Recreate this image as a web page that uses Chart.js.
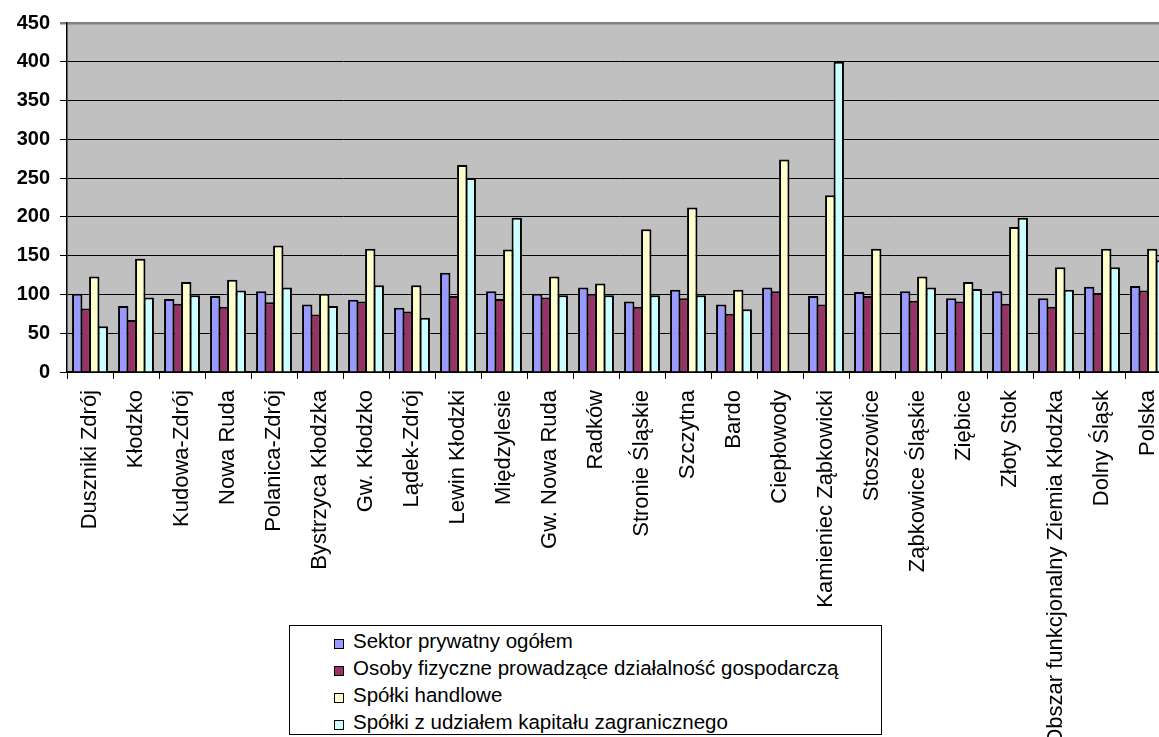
<!DOCTYPE html>
<html lang="pl">
<head>
<meta charset="utf-8">
<script src="https://cdn.jsdelivr.net/npm/chart.js@4/dist/chart.umd.min.js"></script>
<style>
  html, body { margin: 0; padding: 0; background: #fff; overflow: hidden; }
  #wrap { position: absolute; left: 0; top: 0; width: 1171px; height: 737px; }
  #legend {
    position: absolute; left: 289px; top: 625px; width: 591px; height: 108px;
    border: 1px solid #000; background: #fff;
    font-family: "Liberation Sans", Arial, sans-serif; font-size: 20.5px; color: #000;
  }
  #legend .row { position: absolute; left: 44px; height: 27px; line-height: 27px; white-space: nowrap; }
  #legend .sw { display: inline-block; width: 8px; height: 8px; border: 1.5px solid #000; margin-right: 9px; vertical-align: -1px; }
</style>
</head>
<body>
<div id="wrap"><canvas id="chart"></canvas></div>
<div id="legend"></div>
<script>
const categories = ['Duszniki Zdrój', 'Kłodzko', 'Kudowa-Zdrój', 'Nowa Ruda', 'Polanica-Zdrój', 'Bystrzyca Kłodzka',
    'Gw. Kłodzko', 'Lądek-Zdrój', 'Lewin Kłodzki', 'Międzylesie', 'Gw. Nowa Ruda', 'Radków', 'Stronie Śląskie',
    'Szczytna', 'Bardo', 'Ciepłowody', 'Kamieniec Ząbkowicki', 'Stoszowice', 'Ząbkowice Śląskie', 'Ziębice',
    'Złoty Stok', 'Obszar funkcjonalny Ziemia Kłodzka', 'Dolny Śląsk', 'Polska'];

const seriesNames = ['Sektor prywatny ogółem', 'Osoby fizyczne prowadzące działalność gospodarczą',
    'Spółki handlowe', 'Spółki z udziałem kapitału zagranicznego'];
const seriesColors = ['#9999FF', '#993366', '#FFFFCC', '#CCFFFF'];

const sektorPrywatny = [101, 85, 94, 98, 104, 87, 93, 83, 128, 104, 101, 109, 91, 106, 87, 109, 98, 103, 104, 95, 104, 95, 110, 111];
const osobyFizyczne = [82, 67, 88, 84, 90, 74, 91, 78, 98, 94, 96, 101, 84, 95, 75, 104, 87, 98, 92, 91, 88, 84, 102, 105];
const spolkiHandlowe = [123, 146, 116, 119, 163, 101, 159, 112, 267, 158, 123, 114, 184, 212, 106, 274, 228, 159, 123, 116, 187, 135, 159, 159];
const spolkiZagraniczne = [59, 96, 99, 105, 109, 85, 112, 70, 250, 199, 99, 99, 99, 99, 81, null, 400, null, 109, 107, 199, 106, 135, 144];

const yTicks = { min: 0, max: 450, step: 50 };

// szare tło obszaru wykresu
const plotBackground = {
    id: 'plotBackground',
    beforeDraw(chart) {
        const a = chart.chartArea;
        const ctx = chart.ctx;
        ctx.save();
        ctx.fillStyle = '#C0C0C0';
        ctx.fillRect(a.left, a.top, a.right - a.left, a.bottom - a.top);
        ctx.restore();
    }
};

const allSeries = [sektorPrywatny, osobyFizyczne, spolkiHandlowe, spolkiZagraniczne];

new Chart(document.getElementById('chart'), {
    type: 'bar',
    data: {
        labels: categories,
        datasets: allSeries.map((values, i) => ({
            label: seriesNames[i],
            data: values,
            backgroundColor: seriesColors[i],
            borderColor: '#000',
            borderWidth: 2,
            borderSkipped: 'bottom',
            barPercentage: 1.22,
            categoryPercentage: 0.74
        }))
    },
    options: {
        responsive: true,
        maintainAspectRatio: false,
        animation: false,
        layout: { padding: { top: 23, left: 0, right: 0, bottom: 0 } },
        plugins: {
            legend: { display: false },
            tooltip: { enabled: false }
        },
        scales: {
            x: {
                grid: { offset: true, drawOnChartArea: false, drawTicks: true, tickLength: 7, color: '#000', lineWidth: 1 },
                border: { display: true, color: '#000', width: 1.5 },
                ticks: {
                    autoSkip: false, maxRotation: 90, minRotation: 90, padding: 11,
                    color: '#000', font: { family: '"Liberation Sans", Arial, sans-serif', size: 22 }
                },
                afterFit(scale) {
                    scale.height = 365;
                    // obszar wykresu ma dochodzić do prawej krawędzi (jak w oryginale jest ucięty)
                    scale.paddingLeft = 0;
                    scale.paddingRight = 0;
                }
            },
            y: {
                min: yTicks.min,
                max: yTicks.max,
                grid: {
                    color: ctx => (ctx.tick && ctx.tick.value === yTicks.max) ? '#808080' : '#000',
                    lineWidth: ctx => (ctx.tick && ctx.tick.value === yTicks.max) ? 2.5 : 1,
                    tickLength: 7
                },
                border: { display: true, color: '#000', width: 1.5 },
                ticks: {
                    stepSize: yTicks.step, padding: 10, color: '#000',
                    font: { family: '"Liberation Sans", Arial, sans-serif', size: 20, weight: 'bold' }
                },
                afterFit(scale) { scale.width = 67; }
            }
        }
    },
    plugins: [plotBackground]
});

// legenda jak w Excelu
const legend = document.getElementById('legend');
seriesNames.forEach((name, i) => {
    const row = document.createElement('div');
    row.className = 'row';
    row.style.top = (1 + i * 27) + 'px';
    row.innerHTML = `<span class="sw" style="background:${seriesColors[i]}"></span>${name}`;
    legend.appendChild(row);
});
</script>
</body>
</html>
